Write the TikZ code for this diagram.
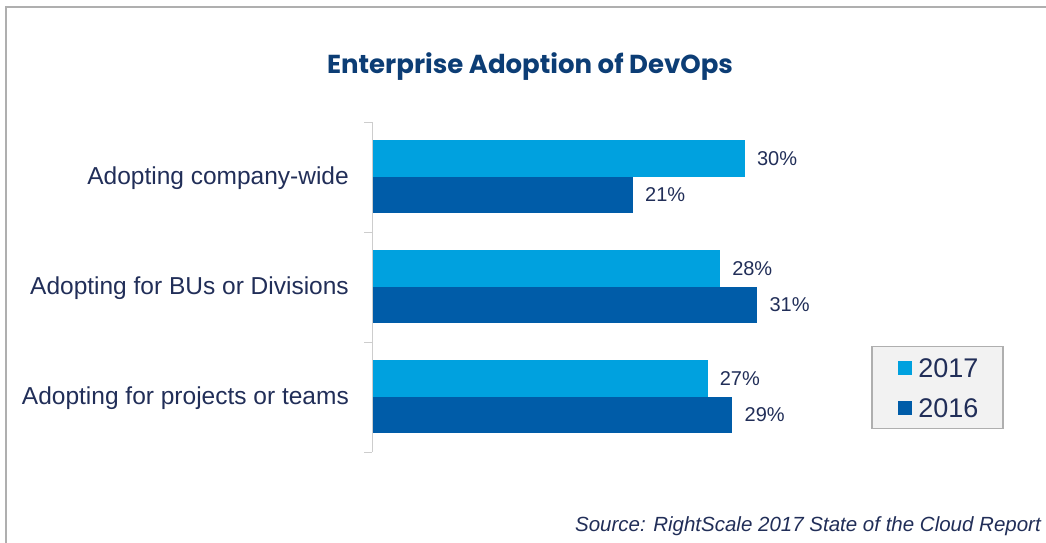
\documentclass[tikz,border=0pt]{standalone}
\usepackage{fontspec}
\setmainfont{Liberation Sans}
\newfontfamily\titleFont{Poppins}
\usepackage{tikz}
\usetikzlibrary{positioning}
\definecolor{newColor}{RGB}{0,161,223}
\definecolor{oldColor}{RGB}{0,92,168}
\definecolor{textColor}{RGB}{33,46,88}
\definecolor{titleColor}{RGB}{12,61,117}
\definecolor{frameColor}{RGB}{175,175,175}
\definecolor{axisColor}{RGB}{205,205,205}
\definecolor{legendFill}{RGB}{242,242,242}
\tikzstyle{chart} = [x = 1pt, y = -1pt]
\tikzstyle{barStyle} = [inner sep = 0, outer sep = 0, anchor = north west, minimum height = 36.5pt]
\tikzstyle{newBar} = [barStyle, fill = newColor]
\tikzstyle{oldBar} = [barStyle, fill = oldColor]
\tikzstyle{valueText} = [inner sep = 0, text = textColor, font = \fontsize{20}{24}\selectfont]
\tikzstyle{labelText} = [inner sep = 0, anchor = east, text = textColor, font = \fontsize{24.5}{28}\selectfont]
\tikzstyle{axisLine} = [color = axisColor, line width = 1pt]
\newcommand{\pctWidth}{12.43}
\newcommand{\axisX}{372}
\newcommand{\barGroup}[5]{
  \node [newBar, minimum width = #3 * \pctWidth pt] (#1New) at (\axisX, #2) {};
  \node [oldBar, minimum width = #4 * \pctWidth pt] (#1Old) at (\axisX, #2 + 36.5) {};
  \node [valueText, right = 12pt of #1New] (#1NewValue) {#3\%};
  \node [valueText, right = 12pt of #1Old] (#1OldValue) {#4\%};
  \node [labelText] (#1Label) at (349, #2 + 38.5) {#5};
}

\begin{document}
\begin{tikzpicture}[chart]
  \useasboundingbox (0,0) rectangle (1046,543);
  \draw [color = frameColor, line width = 1.5pt] (6,543) -- (6,7) -- (1046,7);

  \node [text = titleColor, font = \titleFont\bfseries\fontsize{26}{30}\selectfont] (title) at (530,67) {Enterprise Adoption of DevOps};

  \barGroup{wide}{140}{30}{21}{Adopting company-wide}
  \barGroup{divisions}{250}{28}{31}{Adopting for BUs or Divisions}
  \barGroup{teams}{360}{27}{29}{Adopting for projects or teams}

  \draw [axisLine] (\axisX,122) -- (\axisX,452);
  \foreach \tick in {122,232,342,452}
    \draw [axisLine] (364,\tick) -- (\axisX,\tick);

  \node [draw = frameColor, fill = legendFill, line width = 1.2pt, minimum width = 131pt, minimum height = 82pt, inner sep = 0] (legend) at (937.5,387.5) {};
  \node [fill = newColor, minimum size = 14pt, inner sep = 0] (newKey) at (905,368) {};
  \node [fill = oldColor, minimum size = 14pt, inner sep = 0] (oldKey) at (905,408) {};
  \node [inner sep = 0, anchor = west, text = textColor, font = \fontsize{27}{30}\selectfont, right = 6pt of newKey] (newKeyText) {2017};
  \node [inner sep = 0, anchor = west, text = textColor, font = \fontsize{27}{30}\selectfont, right = 6pt of oldKey] (oldKeyText) {2016};

  \node [inner sep = 0, anchor = east, text = textColor, font = \itshape\fontsize{20.5}{24}\selectfont] (source) at (1041,526) {Source: RightScale 2017 State of the Cloud Report};
\end{tikzpicture}
\end{document}
